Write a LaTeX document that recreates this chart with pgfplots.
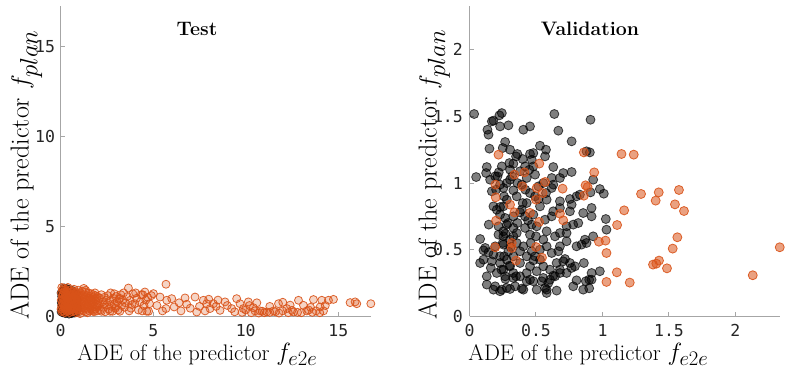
\documentclass[border=0pt]{standalone}
\usepackage{fontspec}
\usepackage{pgfplots}
\pgfplotsset{compat=1.18}
\newfontfamily\tickfont{DejaVu Sans Mono}
\definecolor{mlorange}{HTML}{D95319}
\definecolor{axgray}{HTML}{A6A6A6}
\definecolor{ticktext}{HTML}{262626}

\pgfplotsset{
  adeaxis/.style={
    scale only axis, width=310.5pt, height=310.5pt,
    axis lines=left, axis line style={-, draw=axgray, line width=1.3pt},
    tick style={draw=axgray, line width=1pt}, major tick length=4pt, tick align=inside,
    ticklabel style={font=\tickfont\fontsize{16.5}{17}\selectfont, text=ticktext},
    /pgf/number format/assume math mode=true,
    xticklabel style={inner sep=0pt, yshift=-8pt},
    yticklabel style={inner sep=0pt, xshift=-5.5pt},
    clip=false, xmin=0, ymin=0,
  },
  blk/.style={only marks, mark=*, mark size=#1,
    mark options={draw=black, fill=black, fill opacity=0.5, draw opacity=0.7, line width=0.8pt}},
  blk/.default=4pt,
  orgL/.style={only marks, mark=*, mark size=4pt,
    mark options={draw=mlorange, fill=mlorange, fill opacity=0.25, draw opacity=0.9, line width=0.8pt}},
  orgR/.style={only marks, mark=*, mark size=4.5pt,
    mark options={draw=mlorange, fill=mlorange, fill opacity=0.55, draw opacity=0.9, line width=0.8pt}},
}
\newcommand\xlbl{\fontsize{22.5}{25}\selectfont ADE of the predictor \fontsize{29}{32}\selectfont$f_{e2e}$}
\newcommand\ylbl{\fontsize{26}{29}\selectfont ADE of the predictor \fontsize{33}{36}\selectfont$f_{plan}$}

\begin{document}
\begin{tikzpicture}
\path[use as bounding box] (-60.7pt,-58.7pt) rectangle (728.3pt,316.3pt);

% ---- Test ----
\begin{axis}[adeaxis, at={(0pt,0pt)}, anchor=south west,
  xmax=16.78, ymax=17.25, xtick={0,5,10,15}, ytick={0,5,10,15}]
\addplot[blk] coordinates {
(0.05,0.35) (0.08,0.62) (0.1,0.95) (0.12,1.25) (0.15,1.45) (0.18,1.58) (0.22,1.5) (0.25,1.35)
(0.3,1.55) (0.35,1.42) (0.4,1.3) (0.45,1.5) (0.5,1.38) (0.55,1.2) (0.6,1.45) (0.7,1.3)
(0.05,1.1) (0.08,1.35) (0.1,0.2) (0.15,0.45) (0.2,0.25) (0.25,0.15) (0.3,0.3) (0.35,0.18)
(0.4,0.22) (0.45,0.12) (0.5,0.28) (0.55,0.2) (0.6,0.15) (0.65,0.25) (0.75,0.18) (0.85,0.22)
(0.03,0.75) (0.06,0.5) (0.12,0.8) (0.2,1.05) (0.28,0.9) (0.33,0.6) (0.38,0.75) (0.42,1.0)
(0.48,0.55) (0.52,0.82) (0.58,0.65) (0.62,0.95) (0.68,0.5) (0.72,0.78) (0.8,0.6) (0.88,0.9)
(0.9,0.45) (0.78,1.1) (0.02,0.25) (0.02,1.3) (0.13,1.15) (0.27,0.45) (0.36,1.15) (0.46,0.38)
(0.66,1.05) (0.83,1.25) (0.18,0.7) (0.4,0.5)
};
\addplot[orgL] coordinates {
(0.02,0.4) (0.03,0.9) (0.04,1.3) (0.05,0.6) (0.06,1.6) (0.07,0.25) (0.08,1.1) (0.09,0.75)
(0.1,1.45) (0.11,0.5) (0.12,0.95) (0.13,0.3) (0.14,1.2) (0.15,0.7) (0.16,1.55) (0.17,0.4)
(0.18,1.0) (0.19,0.85) (0.2,1.35) (0.21,0.55) (0.22,0.2) (0.23,1.15) (0.24,0.65) (0.25,1.5)
(0.26,0.45) (0.27,0.9) (0.28,1.25) (0.29,0.35) (0.3,0.8) (0.31,1.05) (0.32,0.6) (0.33,1.4)
(0.34,0.25) (0.35,0.95) (0.36,0.5) (0.37,1.2) (0.38,0.75) (0.39,1.6) (0.4,0.4) (0.41,1.0)
(0.42,0.3) (0.43,0.85) (0.44,1.3) (0.45,0.55) (0.46,1.1) (0.47,0.7) (0.48,0.2) (0.49,1.45)
(0.5,0.9) (0.51,0.45) (0.52,1.2) (0.53,0.65) (0.54,1.0) (0.55,0.35) (0.56,1.35) (0.57,0.8)
(0.58,0.5) (0.59,1.15) (0.6,0.6) (0.62,0.95) (0.63,0.25) (0.64,1.4) (0.65,0.7) (0.66,1.05)
(0.68,0.4) (0.69,1.25) (0.7,0.85) (0.71,0.55) (0.72,1.5) (0.74,0.3) (0.75,1.0) (0.76,0.65)
(0.78,1.2) (0.79,0.45) (0.8,0.9) (0.82,1.35) (0.83,0.2) (0.84,0.75) (0.85,1.1) (0.87,0.5)
(0.88,1.3) (0.89,0.35) (0.9,0.95) (0.92,0.6) (0.93,1.2) (0.94,0.8) (0.95,1.45) (0.96,0.4)
(0.97,1.05) (0.98,0.7) (0.99,0.25) (1.0,1.15)
(1.02,0.55) (1.04,0.9) (1.06,1.3) (1.08,0.35) (1.1,0.75) (1.12,1.1) (1.14,0.5) (1.16,1.4)
(1.18,0.65) (1.2,0.95) (1.22,0.3) (1.24,1.2) (1.26,0.8) (1.28,0.45) (1.3,1.05) (1.32,0.6)
(1.34,1.35) (1.36,0.25) (1.38,0.9) (1.4,0.7) (1.42,1.15) (1.44,0.4) (1.46,1.0) (1.48,0.55)
(1.5,1.3) (1.52,0.85) (1.54,0.3) (1.56,0.65) (1.58,1.1) (1.6,0.45) (1.62,0.95) (1.64,1.25)
(1.66,0.6) (1.68,0.35) (1.7,0.8) (1.72,1.05) (1.74,0.5) (1.76,1.2) (1.78,0.7) (1.8,0.25)
(1.82,0.95) (1.84,0.55) (1.86,1.15) (1.88,0.4) (1.9,0.85) (1.92,1.0) (1.94,0.65) (1.96,0.3)
(1.98,1.1) (2.0,0.75) (1.05,0.15) (1.25,1.55) (1.45,0.2) (1.35,1.45) (1.55,1.0) (1.65,0.9)
(1.75,0.3) (1.85,1.3) (1.15,0.85) (1.95,0.5)
(2.05,0.6) (2.1,1.0) (2.15,0.35) (2.2,1.2) (2.25,0.8) (2.3,0.5) (2.35,1.05) (2.4,0.25)
(2.45,0.9) (2.5,0.65) (2.55,1.15) (2.6,0.4) (2.65,0.85) (2.7,1.3) (2.75,0.55) (2.8,0.28)
(2.85,1.0) (2.9,0.7) (2.95,0.45) (3.0,1.1) (3.05,0.8) (3.1,0.35) (3.15,0.95) (3.2,0.28)
(3.25,1.2) (3.3,0.6) (3.35,0.9) (3.4,1.3) (3.45,0.5) (3.5,0.75) (2.2,0.28) (2.67,0.28)
(2.35,0.7) (2.9,1.25) (3.2,1.0) (3.0,0.55)
(3.6,1.1) (3.66,1.57) (3.75,0.89) (3.8,0.45) (3.9,1.25) (4.0,0.7) (4.1,1.0) (4.2,0.35)
(4.29,0.8) (4.35,1.2) (4.43,1.2) (4.5,0.6) (4.55,1.35) (4.6,0.9) (4.65,0.28) (4.7,1.05)
(4.75,0.28) (4.8,0.7) (4.9,1.15) (5.01,1.26) (3.7,0.3) (4.05,1.3) (4.4,0.3) (3.85,0.65)
(5.37,1.07) (5.69,1.78) (5.73,0.89) (6.0,0.98) (6.13,0.52) (5.69,0.43) (5.2,0.6) (5.5,0.3)
(6.4,0.75) (6.72,1.02) (7.26,1.07) (6.81,0.67) (7.35,0.24) (7.0,0.45) (7.71,0.89) (7.89,0.7)
(8.25,0.7) (8.07,0.43) (8.61,0.33) (8.88,0.8) (9.24,0.43) (9.51,0.98) (9.69,0.7) (9.87,0.43)
(10.14,0.8) (10.41,0.48) (10.77,0.3) (11.14,0.24) (11.5,0.3) (11.77,0.7) (12.22,0.43) (12.58,0.24)
(12.85,0.89) (13.12,0.61) (13.3,0.3) (13.66,0.93) (14.02,0.52) (14.11,0.89) (14.47,0.89) (14.74,0.94)
(15.64,0.76) (15.91,0.8) (16.0,0.7) (16.76,0.7)
(9.8,0.22) (10.0,0.35) (10.3,0.2) (10.5,0.3) (10.7,0.18) (10.9,0.28) (11.0,0.2) (11.3,0.22)
(11.6,0.25) (11.8,0.18) (12.0,0.3) (12.3,0.2) (12.5,0.33) (12.8,0.22) (13.0,0.2) (13.4,0.35)
(13.6,0.22) (13.8,0.3) (14.0,0.2) (14.2,0.3)
(8.4,0.55) (9.0,0.6) (9.4,0.25) (10.2,0.6) (10.6,0.75) (11.3,0.55) (12.0,0.78) (12.4,0.62)
(13.5,0.5) (14.3,0.6) (7.5,0.55) (8.0,0.95) (8.5,0.9) (6.5,0.3) (7.8,0.3)
};
\node[anchor=base, font=\fontsize{19.5}{22}\selectfont\bfseries] at (rel axis cs:0.439,0.903) {Test};
\node[anchor=base] at ([yshift=-44pt]rel axis cs:0.44,0) {\xlbl};
\node[anchor=base, rotate=90] at ([xshift=-32pt]rel axis cs:0,0.455) {\ylbl};
\end{axis}

% ---- Validation ----
\begin{axis}[adeaxis, at={(408.8pt,0pt)}, anchor=south west,
  xmax=2.335, ymax=2.33, xtick={0,0.5,1,1.5,2}, ytick={0,0.5,1,1.5,2},
  yticklabel style={inner sep=0pt, xshift=-1pt}]
\addplot[blk=4.5pt] coordinates {
(0.035,1.518) (0.243,1.525) (0.225,1.508) (0.168,1.463) (0.18,1.468) (0.23,1.425) (0.293,1.433) (0.638,1.518)
(0.91,1.475) (0.405,1.4) (0.455,1.425) (0.668,1.393) (0.135,1.4) (0.143,1.363) (0.768,1.313) (0.268,1.308)
(0.15,1.258) (0.25,1.263) (0.305,1.25) (0.53,1.28) (0.575,1.25) (0.568,1.2) (0.455,1.218) (0.48,1.225)
(0.36,1.218) (0.905,1.23) (0.88,1.238) (0.13,1.12) (0.125,1.075) (0.05,1.045) (0.193,1.05) (0.243,1.125)
(0.33,1.145) (0.418,1.125) (0.48,1.125) (0.38,1.088) (0.468,1.175) (0.63,1.12) (0.705,1.075) (0.768,1.083)
(0.93,1.025) (0.98,0.955) (1.01,0.92) (0.91,0.93) (0.805,0.9) (0.755,0.88) (0.768,0.838) (0.83,0.913)
(0.68,0.863) (0.63,0.988) (0.618,1.038) (0.493,1.063) (0.43,1.038) (0.305,1.025) (0.255,0.963) (0.21,1.05)
(0.168,0.938) (0.18,0.825) (0.28,0.875) (0.355,0.9) (0.455,0.925) (0.493,0.9) (0.575,0.925) (0.618,0.963)
(0.58,0.875) (0.53,0.825) (0.43,0.85) (0.393,0.8) (0.255,0.825) (0.205,0.8) (0.145,0.688) (0.23,0.763)
(0.268,0.738) (0.33,0.75) (0.418,0.75) (0.48,0.763) (0.468,0.688) (0.505,0.675) (0.568,0.725) (0.618,0.75)
(0.63,0.788) (0.68,0.813) (0.755,0.788) (0.855,0.775) (0.918,0.813) (0.918,0.75) (1.025,0.73) (1.03,0.65)
(0.93,0.6) (0.818,0.7) (0.78,0.688) (0.73,0.675) (0.73,0.625) (0.68,0.625) (0.643,0.6) (0.58,0.638)
(0.555,0.575) (0.455,0.613) (0.418,0.663) (0.33,0.663) (0.255,0.638) (0.255,0.6) (0.305,0.575) (0.355,0.55)
(0.405,0.525) (0.255,0.538) (0.193,0.525) (0.118,0.513) (0.08,0.58) (0.105,0.495) (0.143,0.48) (0.18,0.463)
(0.23,0.45) (0.28,0.425) (0.33,0.45) (0.43,0.45) (0.468,0.488) (0.53,0.5) (0.58,0.525) (0.618,0.475)
(0.668,0.488) (0.68,0.525) (0.73,0.563) (0.805,0.525) (0.843,0.538) (0.868,0.575) (0.88,0.55) (0.718,0.43)
(0.755,0.4) (0.705,0.413) (0.655,0.4) (0.68,0.35) (0.73,0.325) (0.768,0.363) (0.793,0.375) (0.86,0.4)
(0.918,0.325) (0.98,0.338) (0.9,0.275) (0.875,0.263) (0.918,0.275) (0.855,0.2) (0.9,0.21) (0.805,0.27)
(0.78,0.225) (0.68,0.325) (0.63,0.305) (0.605,0.275) (0.593,0.25) (0.543,0.263) (0.568,0.213) (0.58,0.2)
(0.655,0.193) (0.505,0.2) (0.48,0.263) (0.455,0.275) (0.405,0.2) (0.393,0.208) (0.343,0.225) (0.305,0.205)
(0.28,0.213) (0.243,0.2) (0.23,0.188) (0.193,0.225) (0.18,0.2) (0.13,0.238) (0.13,0.3) (0.16,0.363)
(0.205,0.325) (0.255,0.35) (0.33,0.325) (0.38,0.3) (0.43,0.325) (0.455,0.375) (0.505,0.338) (0.555,0.375)
(0.605,0.35) (0.53,0.425) (0.493,0.45) (0.38,0.4) (0.305,0.375) (0.268,0.3) (0.33,0.288) (0.43,0.263)
(0.23,0.4) (0.168,0.413) (0.105,0.425) (0.08,0.4) (0.218,0.613) (0.28,0.688) (0.355,0.625) (0.293,0.488)
(0.38,0.488) (0.218,0.675) (0.555,0.288) (0.393,0.988) (0.33,0.945) (0.518,0.975) (0.555,1.0) (0.23,0.988)
(0.155,1.025) (0.305,1.1) (0.68,1.038) (0.643,0.3) (0.58,0.175)
(0.25,0.55) (0.27,0.62) (0.29,0.7) (0.31,0.52) (0.26,0.45) (0.3,0.38) (0.35,0.3) (0.27,0.28)
(0.24,0.35) (0.33,0.6) (0.36,0.7) (0.38,0.78) (0.4,0.85) (0.42,0.95) (0.36,1.0) (0.32,1.05)
(0.28,1.0) (0.26,0.9) (0.23,0.82) (0.44,0.72) (0.46,0.55) (0.48,0.42) (0.5,0.6) (0.52,0.88)
(0.45,1.1) (0.4,1.18) (0.35,1.2) (0.3,1.15) (0.2,0.95) (0.22,1.08)
};
\addplot[orgR] coordinates {
(0.218,1.213) (1.143,1.218) (1.235,1.213) (0.86,1.23) (0.525,1.146) (0.938,1.08) (0.338,1.063) (0.413,1.08)
(0.195,0.988) (0.398,0.975) (0.505,0.963) (0.568,1.008) (0.55,0.925) (0.70,0.958) (0.873,0.983) (0.888,0.97)
(0.86,0.905) (0.50,0.875) (0.197,0.893) (1.29,0.918) (1.423,0.93) (1.40,0.868) (1.575,0.948) (1.545,0.84)
(1.613,0.79) (1.163,0.795) (0.305,0.838) (0.338,0.78) (0.455,0.776) (0.68,0.77) (0.705,0.72) (0.523,0.708)
(0.20,0.718) (1.11,0.685) (1.563,0.593) (0.973,0.56) (1.023,0.568) (1.03,0.475) (0.318,0.55) (0.318,0.513)
(0.193,0.518) (0.50,0.52) (0.545,0.44) (0.35,0.418) (1.528,0.508) (2.333,0.518) (1.425,0.418) (1.38,0.388)
(1.405,0.395) (1.485,0.36) (1.108,0.33) (2.13,0.308) (1.03,0.258) (1.205,0.253)
};
\node[anchor=base, font=\fontsize{19.5}{22}\selectfont\bfseries] at (rel axis cs:0.388,0.903) {Validation};
\node[anchor=base] at ([yshift=-44pt]rel axis cs:0.383,0) {\xlbl};
\node[anchor=base, rotate=90] at ([xshift=-33pt]rel axis cs:0,0.457) {\ylbl};
\end{axis}
\end{tikzpicture}
\end{document}
